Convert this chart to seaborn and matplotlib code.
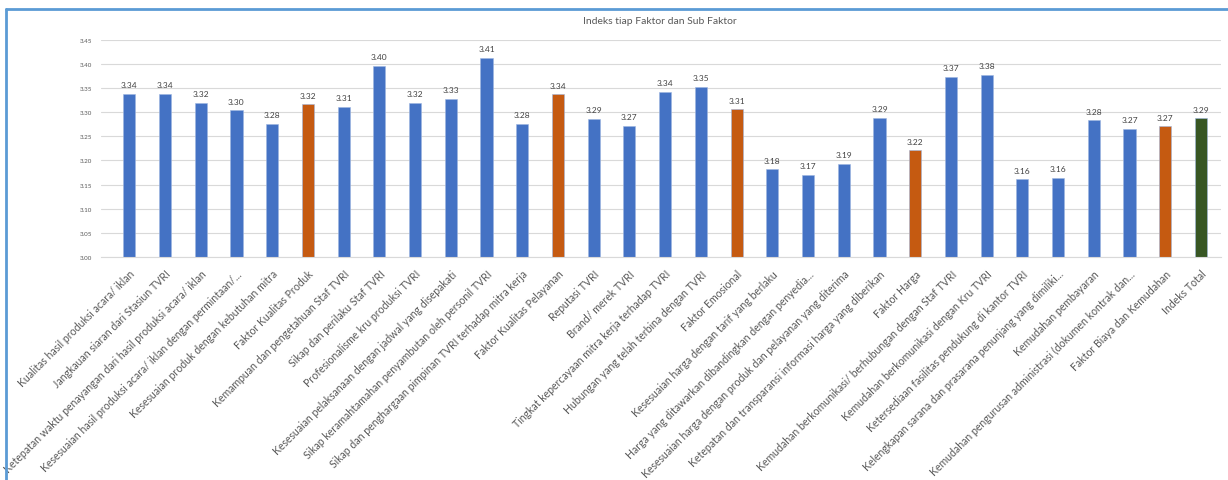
import matplotlib
matplotlib.use("Agg")
import matplotlib.pyplot as plt
import seaborn as sns
import pandas as pd
from matplotlib.lines import Line2D

categories = [
    "Kualitas hasil produksi acara/ iklan",
    "Jangkauan siaran dari Stasiun TVRI",
    "Ketepatan waktu penayangan dari hasil produksi acara/ iklan",
    "Kesesuaian hasil produksi acara/ iklan dengan permintaan/...",
    "Kesesuaian produk dengan kebutuhan mitra",
    "Faktor Kualitas Produk",
    "Kemampuan dan pengetahuan Staf TVRI",
    "Sikap dan perilaku Staf TVRI",
    "Profesionalisme kru produksi TVRI",
    "Kesesuaian pelaksanaan dengan jadwal yang disepakati",
    "Sikap keramahtamahan penyambutan oleh personil TVRI",
    "Sikap dan penghargaan pimpinan TVRI terhadap mitra kerja",
    "Faktor Kualitas Pelayanan",
    "Reputasi TVRI",
    "Brand/ merek TVRI",
    "Tingkat kepercayaan mitra kerja terhadap TVRI",
    "Hubungan yang telah terbina dengan TVRI",
    "Faktor Emosional",
    "Kesesuaian harga dengan tarif yang berlaku",
    "Harga yang ditawarkan dibandingkan dengan penyedia...",
    "Kesesuaian harga dengan produk dan pelayanan yang diterima",
    "Ketepatan dan transparansi informasi harga yang diberikan",
    "Faktor Harga",
    "Kemudahan berkomunikasi/ berhubungan dengan Staf TVRI",
    "Kemudahan berkomunikasi dengan Kru TVRI",
    "Ketersediaan fasilitas pendukung di kantor TVRI",
    "Kelengkapan sarana dan prasarana penunjang yang dimiliki...",
    "Kemudahan pembayaran",
    "Kemudahan pengurusan administrasi (dokumen kontrak dan...",
    "Faktor Biaya dan Kemudahan",
    "Indeks Total",
]

values = [3.338, 3.338, 3.320, 3.304, 3.276, 3.316, 3.311, 3.396, 3.320, 3.328,
          3.413, 3.276, 3.337, 3.286, 3.272, 3.342, 3.353, 3.306, 3.182, 3.170,
          3.193, 3.288, 3.221, 3.373, 3.378, 3.161, 3.164, 3.283, 3.266, 3.271,
          3.287]

groups = ["Sub", "Sub", "Sub", "Sub", "Sub", "Faktor",
          "Sub", "Sub", "Sub", "Sub", "Sub", "Sub", "Faktor",
          "Sub", "Sub", "Sub", "Sub", "Faktor",
          "Sub", "Sub", "Sub", "Sub", "Faktor",
          "Sub", "Sub", "Sub", "Sub", "Sub", "Sub", "Faktor",
          "Total"]

yticks = [3.00, 3.05, 3.10, 3.15, 3.20, 3.25, 3.30, 3.35, 3.40, 3.45]

df = pd.DataFrame({"cat": categories, "val": values, "grp": groups})

sns.set_theme(style="white")
plt.rcParams["font.family"] = ["Lato", "DejaVu Sans"]

fig = plt.figure(figsize=(12.28, 4.81), dpi=100)
ax = fig.add_axes([0.082, 0.464, 0.912, 0.451])

palette = {"Sub": "#4472C4", "Faktor": "#C55A11", "Total": "#375623"}
sns.barplot(data=df, x="cat", y="val", hue="grp", palette=palette, dodge=False,
            width=0.34, legend=False, ax=ax, order=categories,
            edgecolor="#9DB5E0", linewidth=0.4, saturation=1)

ax.set_ylim(3.0, 3.45)
ax.set_yticks(yticks)
ax.set_yticklabels([f"{t:.2f}" for t in yticks], fontsize=4.5, color="#595959")
ax.set_xlim(-0.8, len(categories) - 0.45)
ax.yaxis.grid(True, color="#D9D9D9", linewidth=0.8)
ax.set_axisbelow(True)
for s in ["top", "right", "left"]:
    ax.spines[s].set_visible(False)
ax.spines["bottom"].set_color("#D9D9D9")
ax.spines["bottom"].set_linewidth(0.8)
ax.tick_params(axis="y", length=0, pad=6)
ax.tick_params(axis="x", length=0, pad=8)
ax.set_xlabel("")
ax.set_ylabel("")

ax.set_xticks(range(len(categories)))
ax.set_xticklabels(categories, rotation=45, ha="right", rotation_mode="anchor",
                   fontsize=7.6, color="#595959")

for i, v in enumerate(values):
    ax.annotate(f"{v:.2f}", (i, v), xytext=(0, 4), textcoords="offset points",
                ha="center", va="bottom", fontsize=6, color="#404040")

fig.text(0.537, 0.955, "Indeks tiap Faktor dan Sub Faktor", ha="center", va="center",
         fontsize=7.5, color="#595959")

# outer frame lines (screenshot border)
fig.add_artist(Line2D([0.005, 1.0], [0.979, 0.979], color="#5B9BD5", linewidth=2,
                      transform=fig.transFigure))
fig.add_artist(Line2D([0.005, 0.005], [0.0, 0.979], color="#5B9BD5", linewidth=2,
                      transform=fig.transFigure))

fig.savefig("out.png", dpi=100, facecolor="white")
